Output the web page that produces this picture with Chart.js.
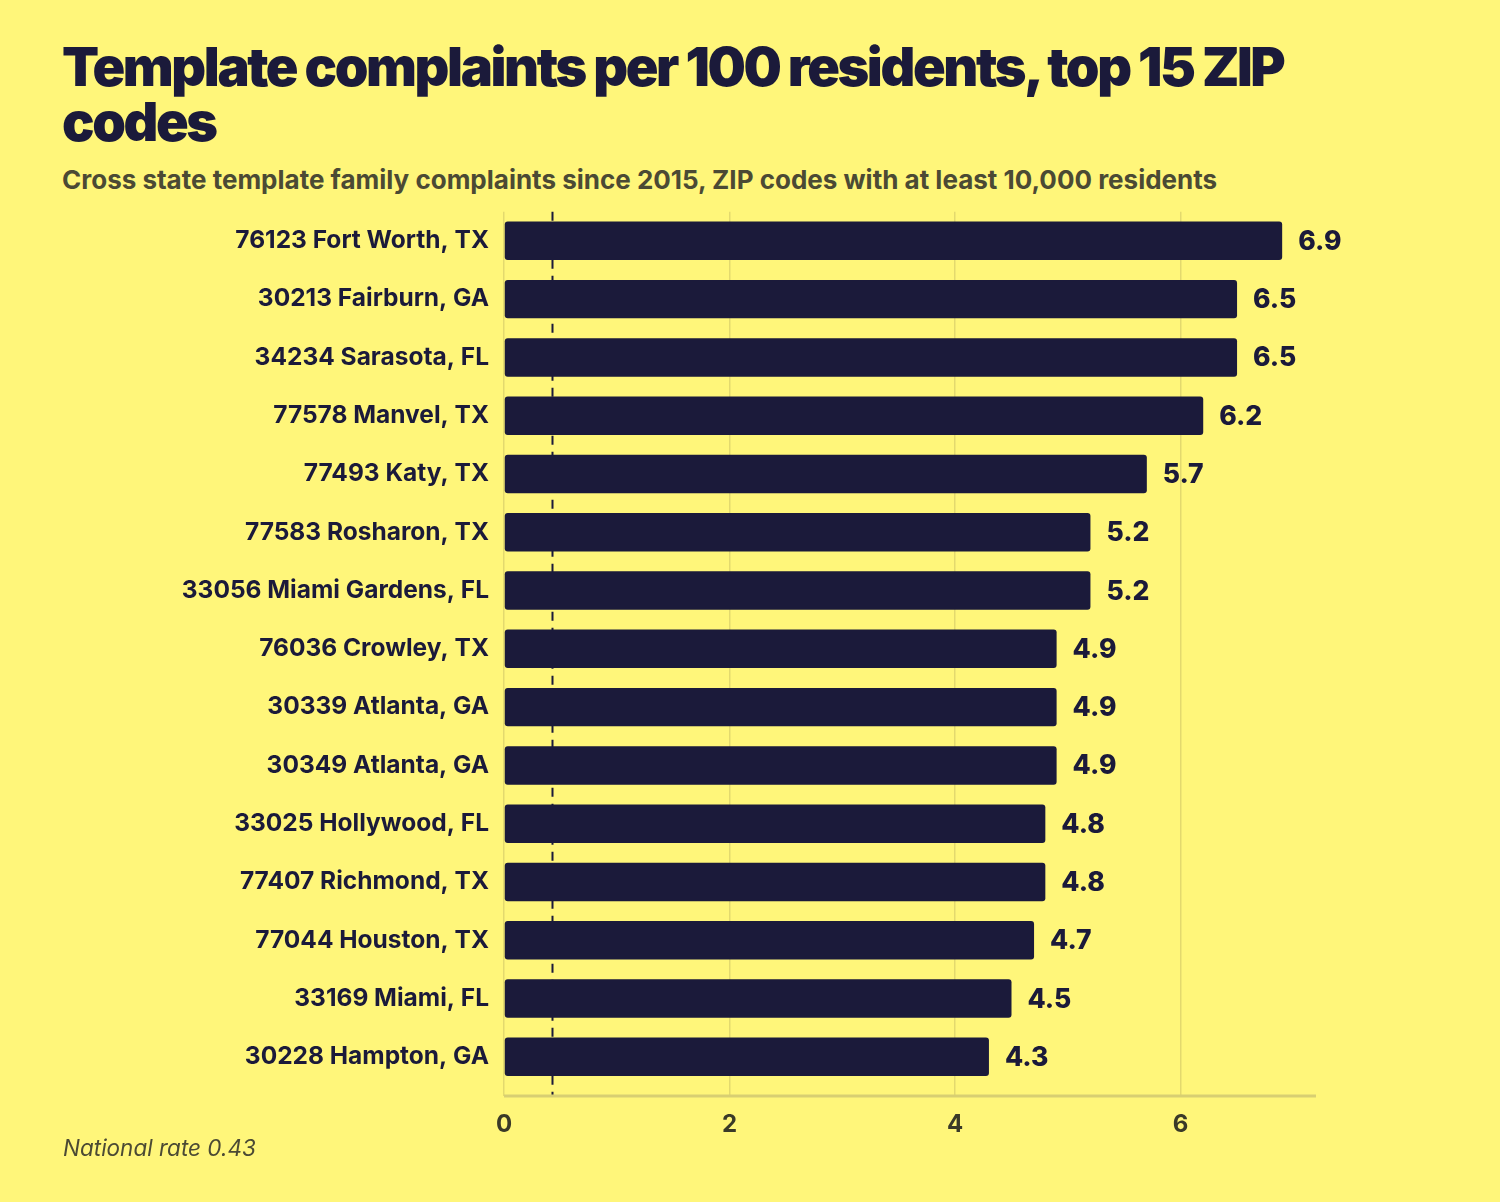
<!DOCTYPE html>
<html>
<head>
<meta charset="utf-8">
<script src="https://cdn.jsdelivr.net/npm/chart.js@4.4.1/dist/chart.umd.min.js"></script>
<style>
    body { margin: 0; background: #FFF67A; width: 1500px; height: 1202px; overflow: hidden; font-family: "Inter", "Noto Sans", sans-serif; }
    #title { position: absolute; left: 62px; top: 39px; width: 1260px; margin: 0; font-size: 54px; font-weight: 900; line-height: 55px; letter-spacing: -2.4px; color: #1B1A3A; }
    #subtitle { position: absolute; left: 62px; top: 164px; margin: 0; font-size: 26px; font-weight: 700; color: #4B4A34; }
    #note { position: absolute; left: 63px; top: 1134px; margin: 0; font-size: 22.5px; font-style: italic; color: #4B4A34; }
    #wrap { position: absolute; left: 0; top: 190px; width: 1500px; height: 970px; }
</style>
</head>
<body>
<h1 id="title">Template complaints per 100 residents, top 15 ZIP codes</h1>
<p id="subtitle">Cross state template family complaints since 2015, ZIP codes with at least 10,000 residents</p>
<div id="wrap"><canvas id="chart"></canvas></div>
<p id="note">National rate 0.43</p>
<script>
const zipCodes = [
    "76123 Fort Worth, TX", "30213 Fairburn, GA", "34234 Sarasota, FL", "77578 Manvel, TX",
    "77493 Katy, TX", "77583 Rosharon, TX", "33056 Miami Gardens, FL", "76036 Crowley, TX",
    "30339 Atlanta, GA", "30349 Atlanta, GA", "33025 Hollywood, FL", "77407 Richmond, TX",
    "77044 Houston, TX", "33169 Miami, FL", "30228 Hampton, GA"
];
const ratePer100 = [6.9, 6.5, 6.5, 6.2, 5.7, 5.2, 5.2, 4.9, 4.9, 4.9, 4.8, 4.8, 4.7, 4.5, 4.3];
const nationalRate = 0.43;
const xTicks = [0, 2, 4, 6];

const navy = "#1B1A3A";
const axisGap = 10;

// dashed national rate line + bottom axis line sitting a little below the bars
const nationalLine = {
    id: "nationalLine",
    beforeDatasetsDraw(chart) {
        let ctx = chart.ctx;
        let area = chart.chartArea;
        let x = chart.scales.x.getPixelForValue(nationalRate);
        ctx.save();
        ctx.strokeStyle = navy;
        ctx.lineWidth = 2;
        ctx.setLineDash([9, 7]);
        ctx.beginPath();
        ctx.moveTo(x, area.top);
        ctx.lineTo(x, area.bottom + axisGap);
        ctx.stroke();
        ctx.setLineDash([]);
        ctx.strokeStyle = "#D8CF72";
        ctx.lineWidth = 3;
        ctx.beginPath();
        ctx.moveTo(area.left, area.bottom + axisGap);
        ctx.lineTo(area.right, area.bottom + axisGap);
        ctx.stroke();
        ctx.restore();
    }
};

const barLabels = {
    id: "barLabels",
    afterDatasetsDraw(chart) {
        let ctx = chart.ctx;
        let meta = chart.getDatasetMeta(0);
        ctx.save();
        ctx.fillStyle = navy;
        ctx.font = "800 26.5px Inter";
        ctx.textAlign = "left";
        ctx.textBaseline = "middle";
        meta.data.forEach(function (bar, i) {
            ctx.fillText(ratePer100[i].toFixed(1), bar.x + 16, bar.y + 1);
        });
        ctx.restore();
    }
};

let ctx = document.getElementById("chart").getContext("2d");
new Chart(ctx, {
    type: "bar",
    data: {
        labels: zipCodes,
        datasets: [{
            data: ratePer100,
            backgroundColor: navy,
            borderRadius: 3,
            borderSkipped: false,
            barPercentage: 0.66,
            categoryPercentage: 1.0
        }]
    },
    options: {
        indexAxis: "y",
        responsive: true,
        maintainAspectRatio: false,
        animation: false,
        layout: { padding: { top: 2, right: 184, bottom: 14, left: 0 } },
        plugins: {
            legend: { display: false },
            tooltip: { enabled: false }
        },
        scales: {
            x: {
                min: 0,
                max: 7.2,
                afterBuildTicks: function (scale) {
                    scale.ticks = xTicks.map(v => ({ value: v }));
                },
                afterFit: function (scale) { scale.height = 60; },
                grid: { color: "#E3D96E", lineWidth: 1.5, drawTicks: true, tickLength: axisGap, tickColor: "#E3D96E" },
                border: { display: false },
                ticks: {
                    color: "#3A3A28",
                    font: { family: "Inter", size: 24, weight: "700" },
                    padding: 14
                }
            },
            y: {
                afterFit: function (scale) { scale.width = 504; },
                grid: { display: false },
                border: { display: false },
                ticks: {
                    color: navy,
                    font: { family: "Inter", size: 24.5, weight: "700" },
                    padding: 7
                }
            }
        }
    },
    plugins: [nationalLine, barLabels]
});
</script>
</body>
</html>
